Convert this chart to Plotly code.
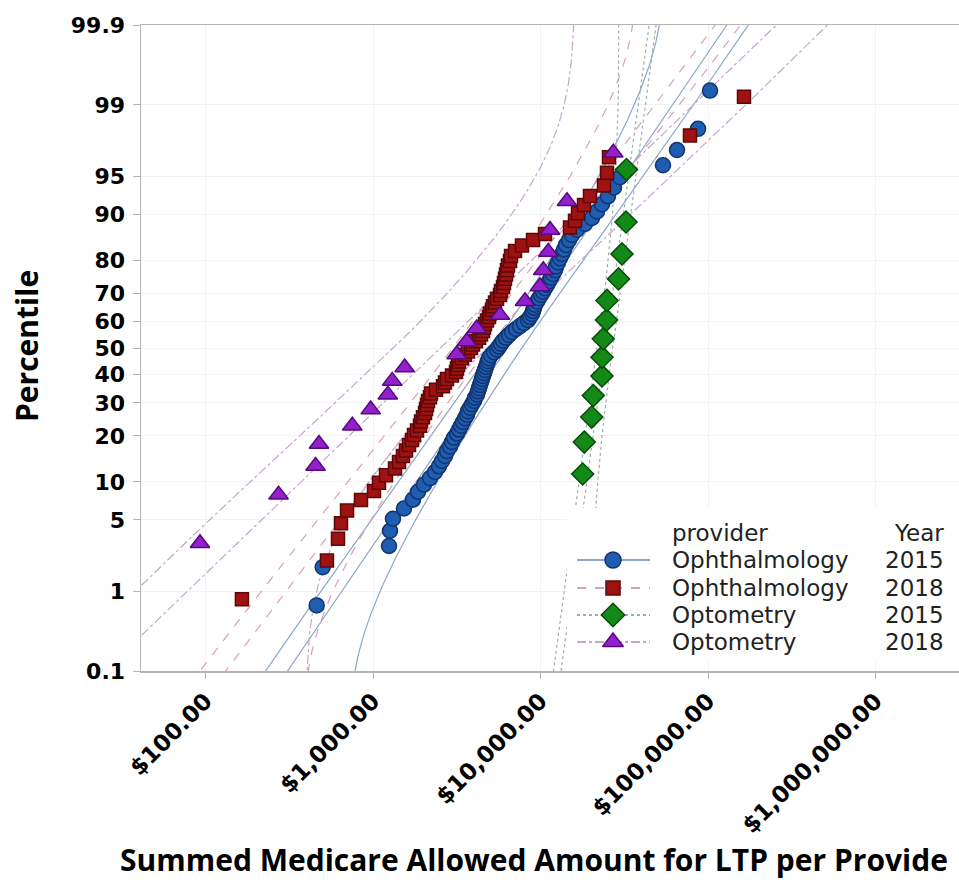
import math
import numpy as np
import plotly.graph_objects as go
from statistics import NormalDist

nd = NormalDist()

# ---------------- data ----------------
oph15_amount = [
    461, 501, 1246, 1263, 1316, 1531, 1733, 1857, 2016, 2189,
    2345, 2477, 2582, 2691, 2766, 2882, 2962, 3045, 3173, 3262,
    3353, 3445, 3541, 3640, 3691, 3794, 3899, 4009, 4064, 4178,
    4236, 4294, 4354, 4414, 4475, 4536, 4599, 4663, 4727, 4793,
    4859, 4926, 5064, 5277, 5500, 5653, 5810, 5972, 6223, 6486,
    6760, 7142, 7545, 7971, 8422, 8657, 8898, 9021, 9147, 9273,
    9531, 9795, 10070, 10350, 10640, 10940, 11240, 11550, 11880, 12210,
    12380, 12720, 13070, 13440, 13810, 14200, 14800, 15420, 16520, 18440,
    20300, 21750, 23290, 25290, 27470, 29830, 53860, 65300, 87170, 102800]
oph15_pct = [
    0.69, 1.80, 2.91, 4.02, 5.12, 6.23, 7.34, 8.45, 9.56, 10.66,
    11.77, 12.88, 13.99, 15.10, 16.20, 17.31, 18.42, 19.53, 20.64, 21.75,
    22.85, 23.96, 25.07, 26.18, 27.29, 28.39, 29.50, 30.61, 31.72, 32.83,
    33.93, 35.04, 36.15, 37.26, 38.37, 39.47, 40.58, 41.69, 42.80, 43.91,
    45.01, 46.12, 47.23, 48.34, 49.45, 50.55, 51.66, 52.77, 53.88, 54.99,
    56.09, 57.20, 58.31, 59.42, 60.53, 61.63, 62.74, 63.85, 64.96, 66.07,
    67.17, 68.28, 69.39, 70.50, 71.61, 72.71, 73.82, 74.93, 76.04, 77.15,
    78.25, 79.36, 80.47, 81.58, 82.69, 83.80, 84.90, 86.01, 87.12, 88.23,
    89.34, 90.44, 91.55, 92.66, 93.77, 94.88, 95.98, 97.09, 98.20, 99.31]

oph18_amount = [
    165, 531, 618, 644, 700, 848, 1014, 1086, 1196, 1353,
    1430, 1510, 1574, 1640, 1709, 1757, 1831, 1909, 1935, 1988,
    2044, 2072, 2101, 2130, 2189, 2220, 2378, 2618, 2691, 2766,
    2962, 3130, 3173, 3217, 3262, 3399, 3541, 3691, 3847, 3954,
    4120, 4294, 4414, 4536, 4599, 4663, 4793, 4926, 4994, 5133,
    5205, 5350, 5500, 5731, 5810, 5972, 6054, 6138, 6223, 6310,
    6397, 6576, 6667, 7045, 7755, 9021, 10640, 15000, 16070, 16750,
    18190, 19750, 23940, 24950, 25640, 78060, 164000]
oph18_pct = [
    0.81, 2.10, 3.40, 4.69, 5.99, 7.28, 8.58, 9.87, 11.17, 12.46,
    13.75, 15.05, 16.34, 17.64, 18.93, 20.23, 21.52, 22.82, 24.11, 25.40,
    26.70, 27.99, 29.29, 30.58, 31.88, 33.17, 34.47, 35.76, 37.06, 38.35,
    39.64, 40.94, 42.23, 43.53, 44.82, 46.12, 47.41, 48.71, 50.00, 51.29,
    52.59, 53.88, 55.18, 56.47, 57.77, 59.06, 60.36, 61.65, 62.94, 64.24,
    65.53, 66.83, 68.12, 69.42, 70.71, 72.01, 73.30, 74.60, 75.89, 77.18,
    78.48, 79.77, 81.07, 82.36, 83.66, 84.95, 86.25, 87.54, 88.83, 90.13,
    91.42, 92.72, 94.01, 95.31, 96.60, 97.90, 99.19]

opt15_amount = [17860, 18260, 20220, 20670, 23290, 23290, 23710, 24770,
                24950, 29230, 30660, 32400, 32620]
opt15_pct = [11.40, 18.42, 25.44, 32.46, 39.47, 46.49, 53.51, 60.53,
             67.54, 74.56, 81.58, 88.60, 95.61]

opt18_amount = [92.7, 273, 454, 476, 752, 969, 1226, 1302, 1546, 3160,
                3625, 4160, 5731, 8080, 9930, 10390, 11130, 11400, 14390, 27200]
opt18_pct = [3.09, 8.02, 12.96, 17.90, 22.84, 27.78, 32.72, 37.65, 42.59, 47.53,
             52.47, 57.41, 62.35, 67.28, 72.22, 77.16, 82.10, 87.04, 91.98, 96.91]

providers = ["Ophthalmology", "Ophthalmology", "Optometry", "Optometry"]
years = ["2015", "2018", "2015", "2018"]

y_tick_pct = [0.1, 1, 5, 10, 20, 30, 40, 50, 60, 70, 80, 90, 95, 99, 99.9]
y_tick_text = ["0.1", "1", "5", "10", "20", "30", "40", "50", "60", "70",
               "80", "90", "95", "99", "99.9"]
x_tick_vals = [100, 1000, 10000, 100000, 1000000]
x_tick_text = ["$100.00", "$1,000.00", "$10,000.00", "$100,000.00", "$1,000,000.00"]

# ---------------- styles ----------------
series = [
    dict(amount=oph15_amount, pct=oph15_pct, symbol="circle", size=15,
         fill="#1f5db0", edge="#12336e", line="#8ea6c8", dash="solid"),
    dict(amount=oph18_amount, pct=oph18_pct, symbol="square", size=13,
         fill="#a01212", edge="#5c0808", line="#d6a2b4", dash="dash"),
    dict(amount=opt15_amount, pct=opt15_pct, symbol="diamond", size=17,
         fill="#138a18", edge="#0a4a0c", line="#9db09d", dash="dot"),
    dict(amount=opt18_amount, pct=opt18_pct, symbol="triangle-up", size=17,
         fill="#9420cc", edge="#560a80", line="#c4a6cf", dash="dashdot"),
]

SQ2 = math.sqrt(2.0)
SQ2PI = math.sqrt(2.0 * math.pi)


def z_of(p):
    return [nd.inv_cdf(v / 100.0) for v in p]


def Phi(z):
    return 0.5 * math.erfc(-z / SQ2)


def phi(z):
    return math.exp(-0.5 * z * z) / SQ2PI


def probit(p):
    if 0.0 < p < 1.0:
        v = nd.inv_cdf(p)
        return v if -8 < v < 8 else np.nan
    return np.nan


lx = np.linspace(1.0, 7.2, 3000)

fig = go.Figure()

# fitted lognormal line (ML) with pointwise 95% confidence band on the CDF
for s in series:
    logs = np.log10(np.array(s["amount"], dtype=float))
    n = len(logs)
    mu = logs.mean()
    sd = logs.std()
    zh = (lx - mu) / sd
    up, lo = [], []
    for z in zh:
        F = Phi(z)
        d = 1.96 * phi(z) * math.sqrt((1.0 + z * z / 2.0) / n)
        up.append(probit(F + d))
        lo.append(probit(F - d))
    m = (zh > -8) & (zh < 8)
    for xx, yy in ((10 ** lx[m], zh[m]), (10 ** lx, up), (10 ** lx, lo)):
        fig.add_trace(go.Scatter(
            x=xx, y=yy, mode="lines", connectgaps=False,
            line=dict(color=s["line"], width=1.2, dash=s["dash"]),
            hoverinfo="skip", showlegend=False))

# points
for s in series:
    fig.add_trace(go.Scatter(
        x=s["amount"], y=z_of(s["pct"]), mode="markers",
        marker=dict(symbol=s["symbol"], size=s["size"], color=s["fill"],
                    line=dict(color=s["edge"], width=1.5)),
        showlegend=False))

# ---------------- layout geometry (pixels) ----------------
FIG_W, FIG_H = 967, 886
PL, PR, PT, PB = 141, 967, 25, 671          # plot-area edges in pixels
PW, PH = PR - PL, PB - PT


def px_x(px):
    return (px - PL) / PW


def px_y(py):
    return (PB - py) / PH


# ---------------- manual legend on an overlay (pixel) axis ----------------
fig.add_trace(go.Scatter(
    x=[567, PR, PR, 567, 567], y=[508, 508, 662, 662, 508],
    xaxis="x2", yaxis="y2", mode="lines", fill="toself",
    fillcolor="white", line=dict(width=0, color="white"),
    hoverinfo="skip", showlegend=False))
row_y = [560, 588, 615, 642]
for s, ry in zip(series, row_y):
    fig.add_trace(go.Scatter(
        x=[577, 650], y=[ry, ry], xaxis="x2", yaxis="y2", mode="lines",
        line=dict(color=s["line"], width=2, dash=s["dash"]),
        hoverinfo="skip", showlegend=False))
    fig.add_trace(go.Scatter(
        x=[613], y=[ry], xaxis="x2", yaxis="y2", mode="markers",
        marker=dict(symbol=s["symbol"], size=s["size"] + 1, color=s["fill"],
                    line=dict(color=s["edge"], width=1.5)),
        hoverinfo="skip", showlegend=False))

leg_font = dict(family="DejaVu Sans", size=23, color="#222222")
annotations = [
    dict(x=670, y=533, xref="x2", yref="y2", text="provider", showarrow=False,
         xanchor="left", yanchor="middle", font=leg_font),
    dict(x=946, y=533, xref="x2", yref="y2", text="Year", showarrow=False,
         xanchor="right", yanchor="middle", font=leg_font),
]
for p, yr, ry in zip(providers, years, row_y):
    annotations.append(dict(x=670, y=ry, xref="x2", yref="y2", text=p,
                            showarrow=False, xanchor="left", yanchor="middle",
                            font=leg_font))
    annotations.append(dict(x=946, y=ry, xref="x2", yref="y2", text=yr,
                            showarrow=False, xanchor="right", yanchor="middle",
                            font=leg_font))

# axis titles
annotations.append(dict(
    x=px_x(26), y=px_y(346), xref="paper", yref="paper",
    text="Percentile", textangle=-90, showarrow=False,
    xanchor="center", yanchor="middle",
    font=dict(family="Open Sans", size=30, color="black", weight="bold")))
annotations.append(dict(
    x=px_x(118), y=px_y(859), xref="paper", yref="paper",
    text="Summed Medicare Allowed Amount for LTP per Provide", showarrow=False,
    xanchor="left", yanchor="middle",
    font=dict(family="Open Sans", size=30, color="black", weight="bold")))

axis_line = "#b4b4b4"
x_left = 2 - (205.5 - PL) / 167.5
x_right = x_left + PW / 167.5
fig.update_layout(
    width=FIG_W, height=FIG_H,
    margin=dict(l=PL, r=FIG_W - PR, t=PT, b=FIG_H - PB),
    paper_bgcolor="white", plot_bgcolor="white",
    showlegend=False,
    xaxis=dict(type="log", range=[x_left, x_right],
               tickvals=x_tick_vals, ticktext=x_tick_text, tickangle=-45,
               tickfont=dict(family="DejaVu Sans", size=23, color="black", weight="bold"),
               showline=True, linecolor=axis_line, linewidth=1.5, mirror=True,
               ticks="outside", ticklen=6, tickcolor=axis_line,
               showgrid=True, gridcolor="#f2f2f2", zeroline=False,
               fixedrange=True),
    yaxis=dict(range=[nd.inv_cdf(0.001), nd.inv_cdf(0.999)],
               tickvals=z_of(y_tick_pct), ticktext=y_tick_text,
               tickfont=dict(family="DejaVu Sans", size=22, color="black", weight="bold"),
               showline=True, linecolor=axis_line, linewidth=1.5, mirror=False,
               ticks="outside", ticklen=7, tickcolor=axis_line,
               ticklabelstandoff=3,
               showgrid=True, gridcolor="#f2f2f2", zeroline=False,
               fixedrange=True),
    xaxis2=dict(overlaying="x", anchor="y2", range=[PL, PR], visible=False,
                showline=False, showgrid=False, fixedrange=True),
    yaxis2=dict(overlaying="y", anchor="x2", range=[PB, PT], visible=False,
                showline=False, showgrid=False, fixedrange=True),
    annotations=annotations,
)

fig.write_html(
    "out.html",
    config={"displayModeBar": False, "staticPlot": True},
    post_script=("document.documentElement.style.overflow='hidden';"
                 "document.body.style.margin='0px';"
                 "document.body.style.overflow='hidden';"),
)
